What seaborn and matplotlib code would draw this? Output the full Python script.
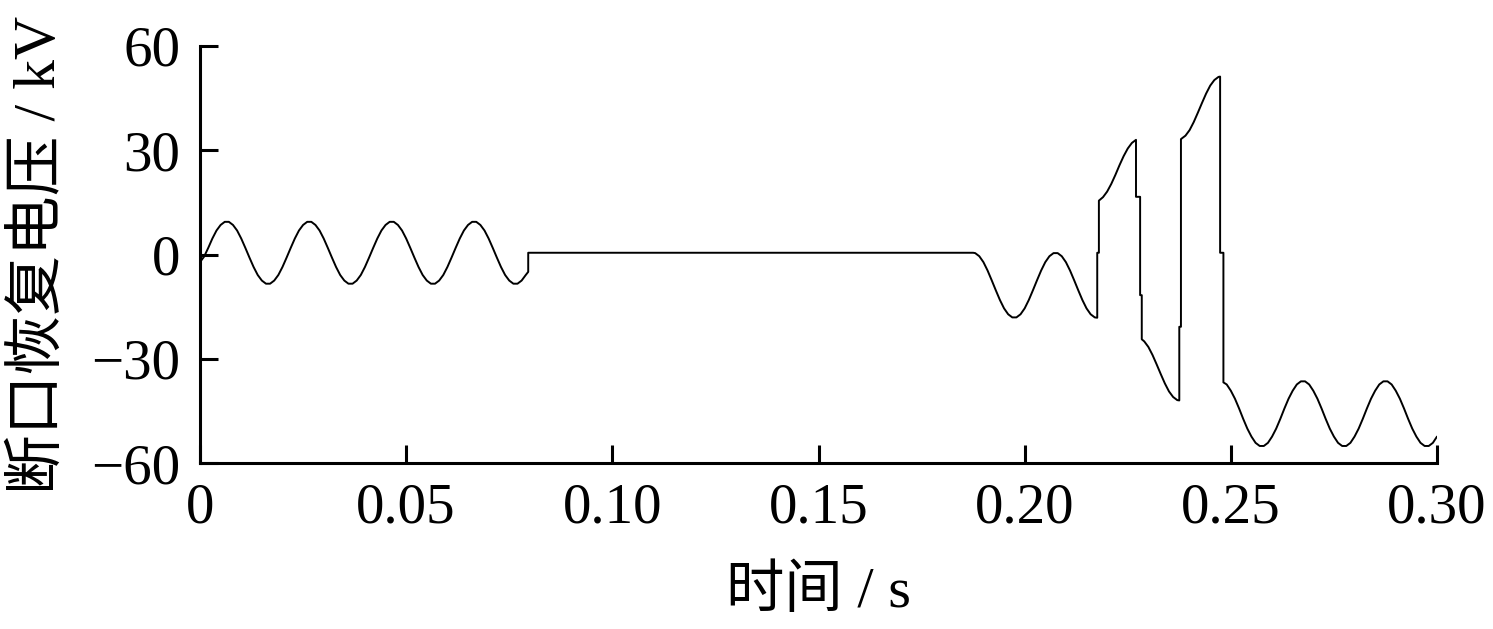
import numpy as np
import pandas as pd
import matplotlib
matplotlib.use('Agg')
import matplotlib.pyplot as plt
import seaborn as sns

# breaker gap recovery voltage (kV)
# wave parts are sampled every 1 ms, *_start is the first sample in ms
wave1_start = 0
wave1_kv = [-2.2, -0.6,
            1.9, 4.6, 6.9, 8.5, 9.4, 9.4, 8.5, 6.9, 4.6, 1.9,
            -0.9, -3.6, -5.9, -7.5, -8.4, -8.4, -7.5, -5.9, -3.6, -0.9,
            1.9, 4.6, 6.9, 8.5, 9.4, 9.4, 8.5, 6.9, 4.6, 1.9,
            -0.9, -3.6, -5.9, -7.5, -8.4, -8.4, -7.5, -5.9, -3.6, -0.9,
            1.9, 4.6, 6.9, 8.5, 9.4, 9.4, 8.5, 6.9, 4.6, 1.9,
            -0.9, -3.6, -5.9, -7.5, -8.4, -8.4, -7.5, -5.9, -3.6, -0.9,
            1.9, 4.6, 6.9, 8.5, 9.4, 9.4, 8.5, 6.9, 4.6, 1.9,
            -0.9, -3.6, -5.9, -7.5, -8.4, -8.4, -7.5, -5.9]
# breaker opens, gap voltage stays near zero
flat_ms = [79.6, 79.6, 187.5]
flat_kv = [-5.0, 0.5, 0.5]

wave2_start = 188
wave2_kv = [0.4, -0.5, -2.2, -4.6, -7.4, -10.3, -13.1, -15.5, -17.2, -18.1,
            -18.1, -17.2, -15.5, -13.1, -10.3, -7.4, -4.6, -2.2, -0.5, 0.4,
            0.4, -0.5, -2.2, -4.6, -7.4, -10.3, -13.1, -15.5, -17.2, -18.1]
jump1_ms = [217.6, 217.6, 218.0, 218.0]
jump1_kv = [-18.2, 0.5, 0.5, 15.5]

wave3_start = 219
wave3_kv = [16.5, 18.1, 20.3, 22.9, 25.7, 28.3, 30.5, 32.1, 33.0]
jump2_ms = [227.0, 228.0, 228.0, 228.4, 228.4]
jump2_kv = [16.6, 16.6, -11.7, -11.7, -24.4]

wave4_start = 229
wave4_kv = [-25.0, -26.6, -28.9, -31.6, -34.4, -37.1, -39.4, -41.0, -41.9]
jump3_ms = [237.5, 237.5, 237.9, 237.9]
jump3_kv = [-42.0, -20.8, -20.8, 33.2]

wave5_start = 238
wave5_kv = [33.3, 34.2, 35.8, 38.1, 40.8, 43.6, 46.3, 48.6, 50.2, 51.1]
jump4_ms = [247.4, 247.4, 248.2, 248.2]
jump4_kv = [51.2, 0.5, 0.5, -36.8]

wave6_start = 249
wave6_kv = [-37.4, -39.2, -41.5, -44.3, -47.3, -50.1, -52.4, -54.2, -55.1, -55.1,
            -54.2, -52.4, -50.1, -47.3, -44.3, -41.5, -39.2, -37.4, -36.5, -36.5,
            -37.4, -39.2, -41.5, -44.3, -47.3, -50.1, -52.4, -54.2, -55.1, -55.1,
            -54.2, -52.4, -50.1, -47.3, -44.3, -41.5, -39.2, -37.4, -36.5, -36.5,
            -37.4, -39.2, -41.5, -44.3, -47.3, -50.1, -52.4, -54.2, -55.1, -55.1,
            -54.2, -52.4]

x_ticks = [0, 0.05, 0.10, 0.15, 0.20, 0.25, 0.30]
x_ticklabels = ['0', '0.05', '0.10', '0.15', '0.20', '0.25', '0.30']
y_ticks = [-60, -30, 0, 30, 60]


def wave(start, values):
    return list(np.arange(start, start + len(values))), list(values)


pieces = [
    wave(wave1_start, wave1_kv), (flat_ms, flat_kv),
    wave(wave2_start, wave2_kv), (jump1_ms, jump1_kv),
    wave(wave3_start, wave3_kv), (jump2_ms, jump2_kv),
    wave(wave4_start, wave4_kv), (jump3_ms, jump3_kv),
    wave(wave5_start, wave5_kv), (jump4_ms, jump4_kv),
    wave(wave6_start, wave6_kv),
]
t_all, v_all = [], []
for ts, vs in pieces:
    t_all += list(ts)
    v_all += list(vs)
df = pd.DataFrame({'t': np.array(t_all, dtype=float) / 1000.0, 'kv': v_all})

sns.set_theme(style='ticks')
plt.rcParams['font.family'] = ['Liberation Serif', 'Noto Sans CJK SC']
plt.rcParams['axes.unicode_minus'] = True

fig = plt.figure(figsize=(14.93, 6.29), dpi=100)
ax = fig.add_axes([200 / 1493, 1 - 463 / 629, 1237 / 1493, 417 / 629])

sns.lineplot(data=df, x='t', y='kv', sort=False, estimator=None,
             color='black', linewidth=1.4, ax=ax)

ax.set_xlim(0, 0.30)
ax.set_ylim(-60, 60)
ax.set_xticks(x_ticks)
ax.set_xticklabels(x_ticklabels)
ax.set_yticks(y_ticks)
sns.despine(ax=ax)
for s in ['left', 'bottom']:
    ax.spines[s].set_linewidth(2.2)
    ax.spines[s].set_color('black')
ax.tick_params(direction='in', length=13, width=2.2, colors='black',
               labelsize=41, pad=14)

ax.set_xlabel('时间 / s', fontsize=42, color='black')
ax.set_ylabel('断口恢复电压 / kV', fontsize=43, color='black')
ax.xaxis.set_label_coords(0.5, -0.245)
ax.yaxis.set_label_coords(-0.107, 0.5)

fig.savefig('out.png', dpi=100)
